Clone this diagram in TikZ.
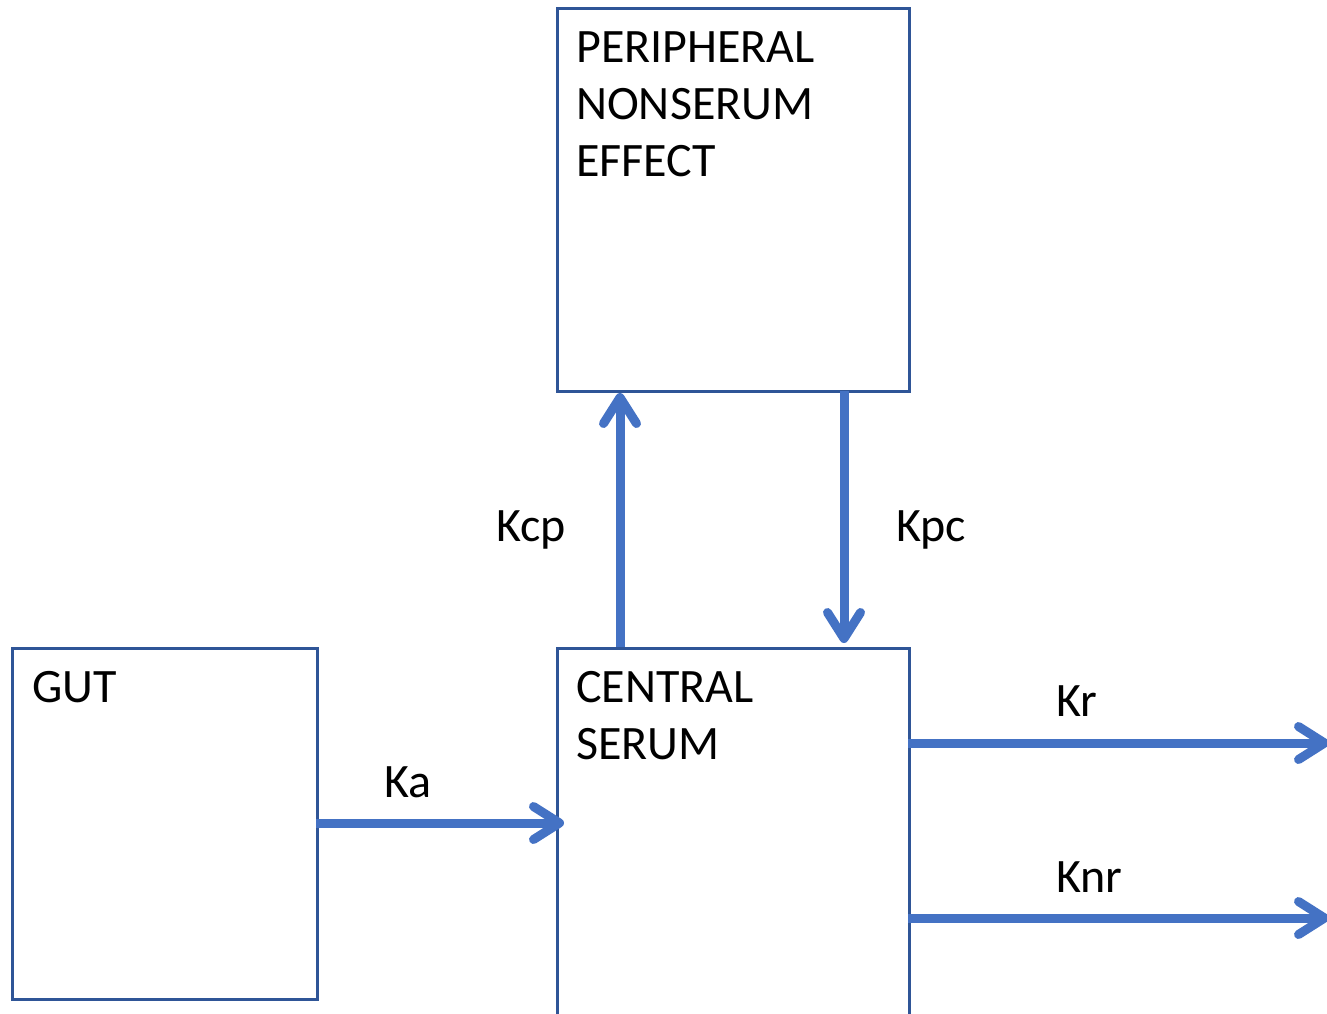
\documentclass[tikz,border=0pt]{standalone}
\usepackage{fontspec}
\setmainfont{Carlito}
\usetikzlibrary{arrows.meta}
\definecolor{boxblue}{HTML}{2F5597}
\definecolor{arrowblue}{HTML}{4472C4}
\begin{document}
\begin{tikzpicture}[x=1pt,y=-1pt,
  comp/.style={draw=boxblue,line width=2.5pt,fill=none,inner sep=0pt,anchor=north west},
  lbl/.style={font=\fontsize{48}{57.6}\selectfont,text=black,inner sep=0pt,anchor=base west,align=left},
  flow/.style={draw=arrowblue,line width=9pt,-{Straight Barb[length=26pt,width=33pt,round]}}]
\useasboundingbox (0,0) rectangle (1327,1013);
\node[comp,minimum width=352pt,minimum height=383pt] (per) at (556,7) {};
\node[comp,minimum width=305pt,minimum height=351pt] (gut) at (11,647) {};
\node[comp,minimum width=352pt,minimum height=400pt] (cen) at (556,647) {};
% texts
\node[lbl] (pert) at (576,62) {PERIPHERAL};
\node[lbl] (pert2) at (576,119) {NONSERUM};
\node[lbl] (pert3) at (576,176) {EFFECT};
\node[lbl] (gutt) at (32,702) {GUT};
\node[lbl] (cent) at (576,702) {CENTRAL};
\node[lbl] (cent2) at (576,759) {SERUM};
\node[lbl] (kcp) at (496,541) {Kcp};
\node[lbl] (kpc) at (896,541) {Kpc};
\node[lbl] (ka) at (384,797) {Ka};
\node[lbl] (kr) at (1056,716) {Kr};
\node[lbl] (knr) at (1056,892) {Knr};
% connectors
\coordinate (kcpA) at (620,647);
\coordinate (kcpB) at (620,393);
\coordinate (kpcA) at (844,391);
\coordinate (kpcB) at (844,643);
\coordinate (kaA) at (316,823);
\coordinate (kaB) at (564,823);
\coordinate (krA) at (908,743);
\coordinate (krB) at (1329,743);
\coordinate (knrA) at (908,918);
\coordinate (knrB) at (1329,918);
\draw[flow] (kcpA) -- (kcpB);
\draw[flow] (kpcA) -- (kpcB);
\draw[flow] (kaA) -- (kaB);
\draw[flow] (krA) -- (krB);
\draw[flow] (knrA) -- (knrB);
\end{tikzpicture}
\end{document}
